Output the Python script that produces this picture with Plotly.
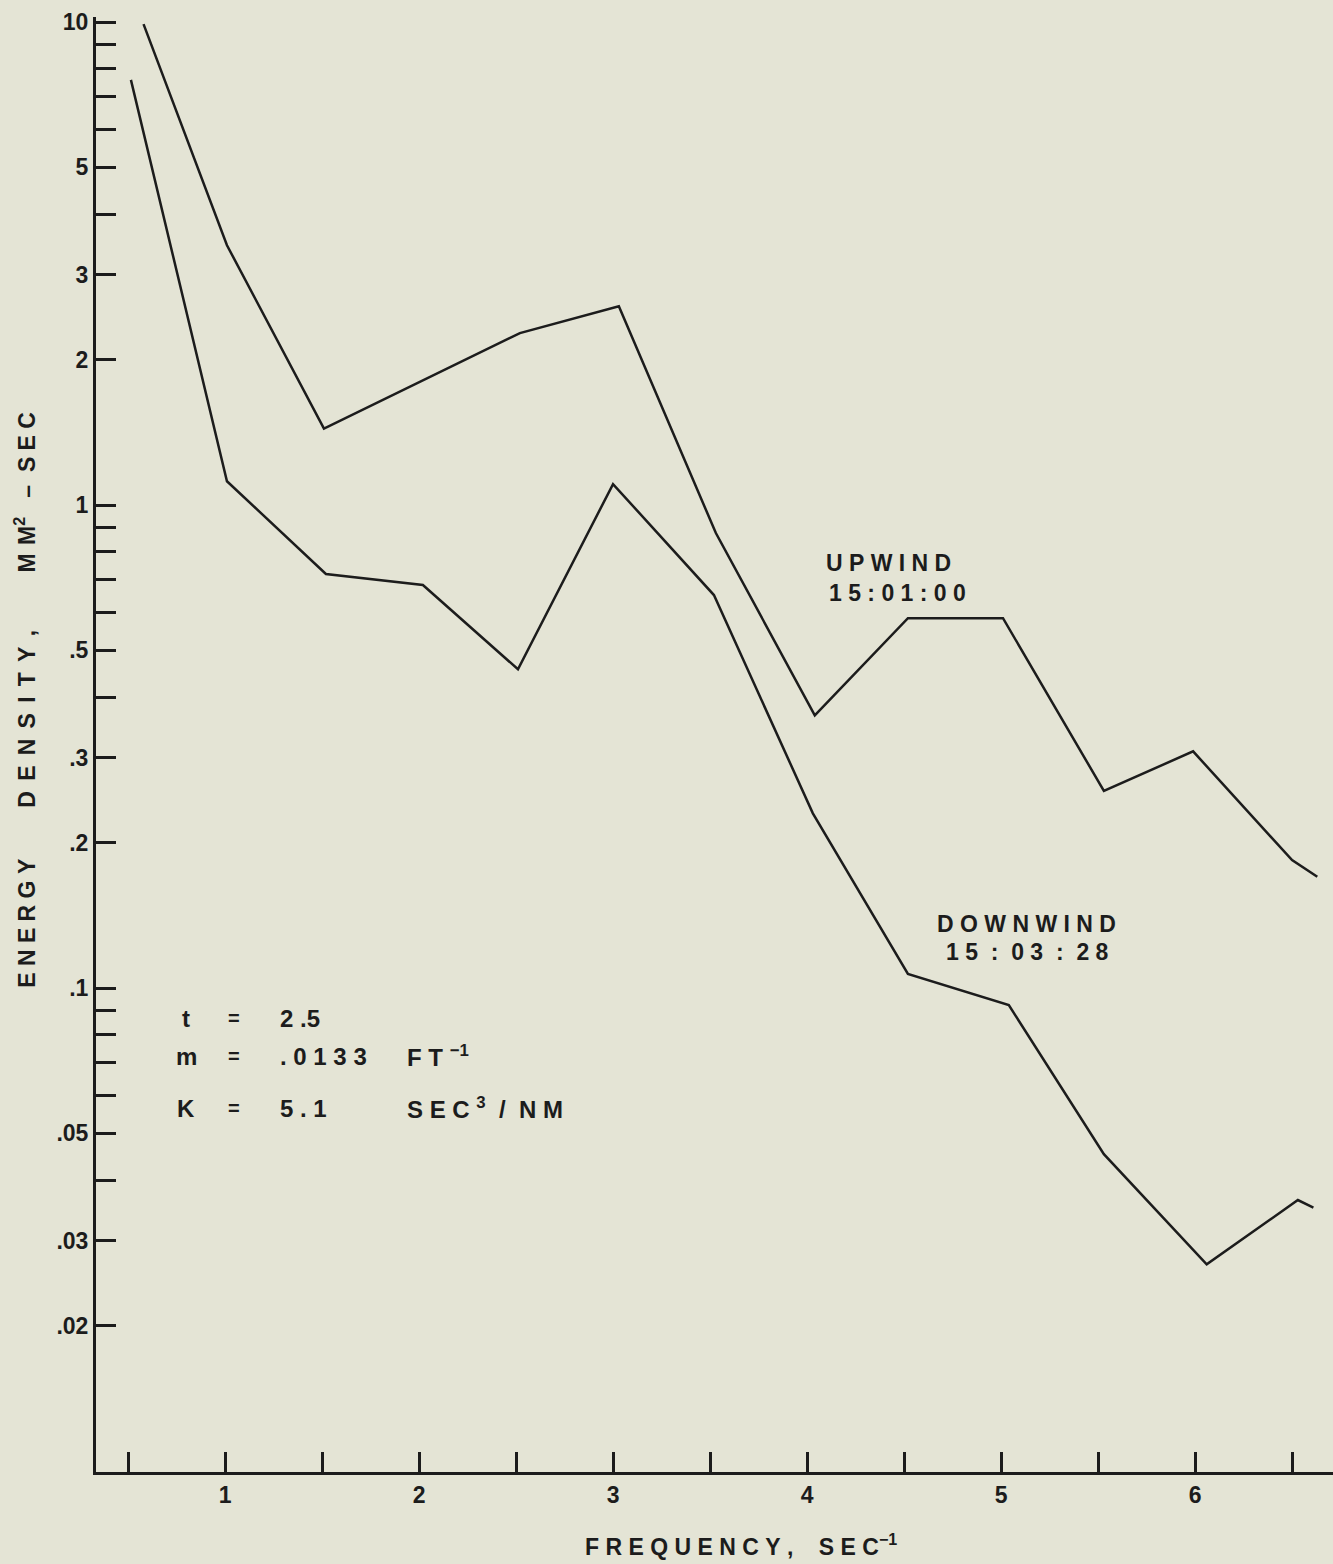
import plotly.graph_objects as go

# ---------------- data ----------------
freq_upwind = [0.58, 1.01, 1.51, 2.52, 3.03, 3.53, 4.04, 4.52, 5.01, 5.53, 5.99, 6.50, 6.63]
energy_upwind = [9.9, 3.45, 1.44, 2.27, 2.58, 0.875, 0.367, 0.583, 0.583, 0.256, 0.309, 0.184, 0.170]

freq_downwind = [0.515, 1.01, 1.52, 2.02, 2.51, 3.00, 3.52, 4.03, 4.52, 5.04, 5.53, 6.06, 6.53, 6.61]
energy_downwind = [7.59, 1.12, 0.72, 0.683, 0.457, 1.105, 0.651, 0.230, 0.107, 0.0922, 0.0453, 0.0268, 0.0364, 0.0351]

x_tick_vals = [0.5, 1, 1.5, 2, 2.5, 3, 3.5, 4, 4.5, 5, 5.5, 6, 6.5]
x_tick_text = ["", "1", "", "2", "", "3", "", "4", "", "5", "", "6", ""]

y_tick_vals = [10, 9, 8, 7, 6, 5, 4, 3, 2, 1, 0.9, 0.8, 0.7, 0.6, 0.5, 0.4, 0.3, 0.2,
               0.1, 0.09, 0.08, 0.07, 0.06, 0.05, 0.04, 0.03, 0.02]
y_tick_text = ["10", "", "", "", "", "5", "", "3", "2", "1", "", "", "", "", ".5", "", ".3", ".2",
               ".1", "", "", "", "", ".05", "", ".03", ".02"]

# ---------------- style ----------------
BG = "#e4e4d5"
INK = "#1c1c1c"
FONT = "Liberation Sans"
NB = "\u00a0"
HAIR = "\u200a"


def spaced(s, sep=NB):
    return sep.join(list(s))


def tf(size):
    return dict(size=size, family=FONT, color=INK, weight="bold")


fig = go.Figure()
fig.add_trace(go.Scatter(x=freq_upwind, y=energy_upwind, mode="lines",
                         line=dict(color=INK, width=2.5), name="UPWIND", showlegend=False))
fig.add_trace(go.Scatter(x=freq_downwind, y=energy_downwind, mode="lines",
                         line=dict(color=INK, width=2.5), name="DOWNWIND", showlegend=False))

fig.update_layout(
    width=1333, height=1564,
    margin=dict(l=96, r=0, t=17, b=92),
    paper_bgcolor=BG, plot_bgcolor=BG,
    font=tf(22),
    showlegend=False,
)

fig.update_xaxes(
    range=[0.335, 6.711], showgrid=False, zeroline=False,
    showline=True, linecolor=INK, linewidth=3,
    tickmode="array", tickvals=x_tick_vals, ticktext=x_tick_text,
    ticks="inside", ticklen=20, tickwidth=2.5, tickcolor=INK,
    tickfont=tf(23),
)
fig.update_yaxes(
    type="log", range=[-2.002, 1.0104], showgrid=False, zeroline=False,
    showline=True, linecolor=INK, linewidth=3,
    tickmode="array", tickvals=y_tick_vals, ticktext=y_tick_text,
    ticks="inside", ticklen=20, tickwidth=2.5, tickcolor=INK,
    tickfont=tf(23),
)

ann = []
# axis titles
ytitle = (spaced("ENERGY") + NB * 8 + spaced("DENSITY,", NB + HAIR + HAIR) + NB * 9
          + "M" + NB + HAIR + "M<sup>2</sup>" + NB * 3 + "–" + NB * 2 + spaced("SEC"))
ann.append(dict(text=ytitle, xref="paper", yref="paper", x=-0.0575, y=0.5306,
                xanchor="center", yanchor="middle", textangle=-90, showarrow=False,
                font=tf(23)))
xtitle = spaced("FREQUENCY,") + NB * 4 + spaced("SEC") + "<sup>−1</sup>"
ann.append(dict(text=xtitle, xref="x", yref="paper", x=3.66, y=-0.05,
                xanchor="center", yanchor="middle", showarrow=False, font=tf(23)))


def lab(text, xpx, ypx, size=23, anchor="center"):
    # pixel positions of the reference converted to axis coordinates
    return dict(text=text, xref="x", yref="y",
                x=(xpx - 31) / 194.0, y=(505 - ypx) / 483.0,
                xanchor=anchor, yanchor="middle", showarrow=False, font=tf(size))


ann.append(lab(spaced("UPWIND"), 888, 563))
ann.append(lab(spaced("15:01:00"), 897, 593))
ann.append(lab(spaced("DOWNWIND"), 1026, 924))
ann.append(lab("1" + NB + "5" + NB * 2 + ":" + NB * 2 + "0" + NB + "3" + NB * 2 + ":" + NB * 2 + "2" + NB + "8",
               1027, 952))

# parameter block
rows = [("t", "2" + NB + ".5", "", 1018),
        ("m", "." + NB + "0" + NB + "1" + NB + "3" + NB + "3", "F" + NB + "T" + NB + "<sup>−1</sup>", 1056),
        ("K", "5" + NB + "." + NB + "1", spaced("SEC") + NB + "<sup>3</sup>" + NB * 2 + "/" + NB * 2 + "N" + NB + "M", 1108)]
for sym, val, unit, ypx in rows:
    ann.append(lab(sym, 186, ypx, size=24))
    ann.append(lab("=", 234, ypx, size=20))
    ann.append(lab(val, 278, ypx, size=24, anchor="left"))
    if unit:
        ann.append(lab(unit, 405, ypx, size=24, anchor="left"))

fig.update_layout(annotations=ann)

fig.write_html("out.html", config={"displayModeBar": False},
               post_script="document.body.style.margin='0';")
